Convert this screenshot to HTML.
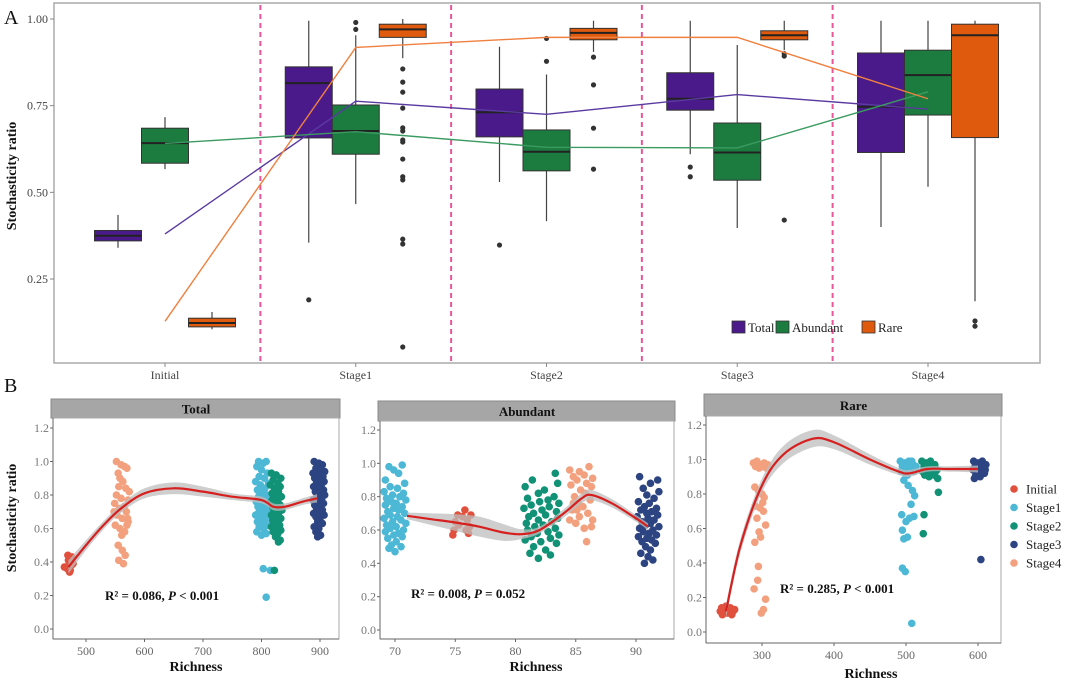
<!DOCTYPE html>
<html><head><meta charset="utf-8">
<style>
html,body{margin:0;padding:0;background:#fff;}
svg{display:block;font-family:"Liberation Serif",serif;}
</style></head>
<body>
<svg id="fig" width="1080" height="684" viewBox="0 0 1080 684" xmlns="http://www.w3.org/2000/svg"></svg>
<script>
// ---------- Panel A data ----------
const categoriesA = ["Initial","Stage1","Stage2","Stage3","Stage4"];
const groupsA = ["Total","Abundant","Rare"];
// [whiskerLow, q1, median, q3, whiskerHigh]
const totalBoxes = [[0.34,0.36,0.375,0.39,0.435],[0.355,0.657,0.815,0.862,0.995],[0.53,0.66,0.731,0.798,0.92],[0.61,0.737,0.77,0.845,0.995],[0.40,0.615,0.747,0.902,0.995]];
const abundantBoxes = [[0.567,0.584,0.642,0.685,0.717],[0.466,0.61,0.677,0.752,0.953],[0.417,0.562,0.617,0.68,0.84],[0.397,0.535,0.615,0.70,0.925],[0.516,0.723,0.838,0.91,0.995]];
const rareBoxes = [[0.105,0.112,0.123,0.137,0.155],[0.887,0.947,0.97,0.985,1.0],[0.905,0.94,0.96,0.973,0.995],[0.91,0.94,0.953,0.966,0.995],[0.186,0.658,0.953,0.985,0.995]];
const totalOutliers = [[],[0.19],[0.348],[0.573,0.545],[]];
const abundantOutliers = [[],[0.99,0.97],[0.944,0.878],[],[]];
const rareOutliers = [[],[0.856,0.818,0.789,0.743,0.686,0.677,0.651,0.645,0.596,0.545,0.536,0.365,0.351,0.054],[0.89,0.81,0.685,0.567],[0.9,0.893,0.42],[0.129,0.114]];
const totalMeans = [0.38,0.763,0.725,0.782,0.74];
const abundantMeans = [0.641,0.675,0.63,0.628,0.79];
const rareMeans = [0.128,0.918,0.947,0.947,0.77];
const yTicksA = [0.25,0.50,0.75,1.00];

// ---------- Panel B data ----------
const stageNames = ["Initial","Stage1","Stage2","Stage3","Stage4"];
const stageColors = ["#e0503c","#4cb8d6","#119276","#2d4482","#f2a07e"];
const totTicks = [500,600,700,800,900];
const abuTicks = [70,75,80,85,90];
const rarTicks = [300,400,500,600];
const yTicksB = [0.0,0.2,0.4,0.6,0.8,1.0,1.2];
const totInitial = "465,.37 468,.36 472,.34 475,.38 470,.41 476,.43 463,.37 473,.35 478,.39 469,.44";
const totStage4 = "552,1.0 560,.98 566,.97 555,.93 570,.96 558,.9 563,.88 556,.85 568,.84 552,.8 560,.78 572,.77 549,.75 565,.73 557,.72 569,.7 553,.68 562,.66 572,.64 550,.62 558,.6 566,.58 561,.56 570,.62 555,.5 562,.47 567,.44 556,.41 564,.39 571,.66 548,.7 574,.82";
const totStage1 = "795,1.0 803,.99 808,1.0 792,.97 800,.95 810,.93 796,.91 805,.9 790,.88 812,.87 798,.86 806,.84 793,.83 801,.82 809,.8 795,.79 803,.78 811,.77 791,.76 799,.75 807,.74 794,.73 802,.72 810,.71 796,.7 804,.69 790,.68 808,.67 798,.66 806,.65 793,.64 801,.63 811,.62 796,.61 804,.6 792,.58 808,.57 800,.56 803,.36 815,.35 808,.19";
const totStage2 = "817,.93 825,.92 833,.9 820,.89 828,.87 815,.86 832,.85 822,.84 829,.82 818,.81 826,.8 834,.79 820,.78 828,.77 816,.76 824,.75 832,.74 819,.73 827,.72 835,.71 821,.7 829,.69 817,.68 825,.67 833,.66 819,.65 827,.64 823,.63 831,.62 817,.61 826,.6 833,.59 820,.58 828,.57 824,.55 832,.53 829,.52 822,.35";
const totStage3 = "890,1.0 898,.99 904,.98 893,.96 901,.95 908,.94 888,.93 896,.92 905,.91 891,.9 899,.89 907,.88 894,.87 902,.86 889,.85 897,.84 906,.83 892,.82 900,.81 908,.8 895,.79 903,.78 888,.77 898,.76 906,.75 891,.74 901,.73 894,.72 904,.71 897,.7 889,.69 907,.68 893,.67 900,.66 896,.64 904,.63 890,.61 898,.6 893,.58 901,.56 896,.55";
const abuInitial = "74.8,.57 75,.65 75.2,.69 75.6,.68 75.8,.72 76,.66 76.2,.62 76.3,.69 75.9,.6 76.1,.58 74.9,.6 75.3,.63";
const abuStage1 = "69.5,.98 70.6,.99 69.9,.96 70.3,.94 69.2,.9 70.8,.88 69.6,.86 70.2,.85 69.1,.83 70.7,.82 69.8,.81 70.4,.8 69.3,.79 70.9,.78 69.7,.77 70.1,.76 69.2,.75 70.6,.74 69.9,.73 70.3,.72 69.4,.71 70.8,.7 69.6,.69 70.2,.68 69.1,.67 70.5,.66 69.8,.65 70.9,.64 69.3,.63 70.1,.62 69.6,.61 70.7,.6 69.2,.59 70.3,.58 69.9,.57 70.6,.56 69.4,.55 70.1,.53 69.7,.51 70.5,.5 70.0,.47 69.5,.49";
const abuStage2 = "83.3,.94 81.4,.9 83.5,.88 80.8,.86 82.4,.84 81.9,.82 83.2,.8 81.0,.79 82.7,.78 82.0,.77 83.6,.76 81.3,.75 82.8,.74 80.7,.73 82.2,.72 83.4,.71 81.5,.7 82.5,.69 81.1,.68 83.5,.67 81.9,.66 83.0,.65 80.9,.64 82.3,.63 81.6,.62 83.3,.61 81.0,.6 82.7,.59 81.8,.58 83.6,.57 81.3,.56 82.9,.55 80.8,.54 82.1,.53 83.4,.52 81.5,.5 82.5,.48 81.2,.46 82.9,.45 81.9,.43";
const abuStage4 = "84.5,.96 86.1,.98 85.3,.95 85.7,.93 84.8,.92 86.4,.91 85.1,.9 85.9,.88 84.6,.87 86.3,.86 85.4,.84 85.8,.82 84.9,.8 86.2,.78 85.2,.76 85.6,.74 84.7,.72 86.0,.7 85.3,.68 86.4,.66 85.0,.64 85.7,.61 84.5,.66 86.3,.62 85.1,.72 85.9,.53 84.8,.76";
const abuStage3 = "90.3,.92 91.8,.9 91.2,.88 90.6,.85 91.9,.83 90.9,.81 91.5,.79 90.2,.77 91.1,.76 90.7,.74 91.7,.73 90.4,.72 91.3,.71 90.9,.7 91.8,.69 90.1,.68 91,.67 91.5,.66 90.5,.65 91.2,.64 90.8,.63 91.9,.62 90.3,.61 91.4,.6 90.6,.59 91.1,.58 91.7,.57 90.2,.56 90.9,.55 91.3,.54 90.5,.53 91.6,.52 90.8,.5 91.2,.48 90.4,.46 91,.44 91.4,.42 90.7,.4";
const rarInitial = "242,.12 247,.13 252,.11 256,.14 260,.12 245,.1 250,.15 255,.12 262,.13 248,.11 258,.1 244,.14";
const rarStage4 = "288,.98 293,.99 298,.97 303,.98 308,.97 291,.96 296,.95 301,.96 306,.95 290,.84 295,.82 300,.8 303,.78 291,.73 297,.72 302,.7 293,.66 305,.62 290,.52 298,.55 295,.38 294,.3 289,.25 305,.19 302,.13 299,.11 296,.58 301,.75";
const rarStage1 = "492,.99 498,.98 504,.99 510,.97 495,.96 501,.95 507,.96 513,.94 493,.93 499,.92 505,.94 511,.93 496,.97 502,.91 508,.99 514,.96 497,.88 503,.85 509,.82 512,.79 507,.74 494,.68 511,.67 505,.66 500,.64 495,.59 502,.55 497,.54 495,.37 499,.35 508,.05";
const rarStage2 = "522,.99 528,.98 534,.99 540,.97 525,.96 531,.95 537,.96 543,.94 523,.93 529,.92 535,.94 541,.93 526,.91 532,.9 538,.97 544,.89 527,.95 533,.93 539,.91 545,.81 525,.68 524,.57";
const rarStage3 = "594,.99 600,.98 606,.99 611,.97 596,.96 602,.95 608,.96 593,.94 599,.93 605,.92 610,.94 597,.91 603,.9 609,.92 595,.89 601,.97 607,.95 604,.42";
const totCurveX = [470,500,530,560,600,650,700,750,800,820,840,870,895];
const totCurveY = [0.37,0.5,0.62,0.72,0.81,0.84,0.82,0.79,0.77,0.73,0.73,0.76,0.78];
const totCurveSE = [0.04,0.03,0.025,0.025,0.03,0.035,0.03,0.02,0.02,0.02,0.02,0.02,0.025];
const abuCurveX = [71,73,75,77,79,80.5,82,84,85.5,86.3,88,90,91];
const abuCurveY = [0.685,0.665,0.645,0.62,0.585,0.575,0.6,0.7,0.79,0.81,0.76,0.67,0.62];
const abuCurveSE = [0.02,0.035,0.05,0.06,0.05,0.03,0.02,0.025,0.03,0.03,0.025,0.02,0.02];
const rarCurveX = [250,270,300,330,370,400,450,490,505,530,560,600];
const rarCurveY = [0.12,0.5,0.85,1.03,1.12,1.1,1.0,0.93,0.92,0.945,0.945,0.945];
const rarCurveSE = [0.04,0.04,0.04,0.05,0.05,0.04,0.03,0.02,0.02,0.015,0.015,0.02];
const r2Labels = ["R² = 0.086, ","R² = 0.008, ","R² = 0.285, "];
const pLabels = ["< 0.001","= 0.052","< 0.001"];

const NS="http://www.w3.org/2000/svg";
const svg=document.getElementById('fig');
function mk(tag,attrs,parent){const e=document.createElementNS(NS,tag);for(const k in attrs)e.setAttribute(k,attrs[k]);(parent||svg).appendChild(e);return e;}
function txt(s,attrs,parent){const e=mk('text',attrs,parent);e.textContent=s;return e;}
// Catmull-Rom to cubic bezier path segments
function smoothPath(pts,move){
  let d=(move?'M':'L')+pts[0][0]+','+pts[0][1];
  for(let i=0;i<pts.length-1;i++){
    const p0=pts[Math.max(0,i-1)],p1=pts[i],p2=pts[i+1],p3=pts[Math.min(pts.length-1,i+2)];
    const c1=[p1[0]+(p2[0]-p0[0])/6,p1[1]+(p2[1]-p0[1])/6];
    const c2=[p2[0]-(p3[0]-p1[0])/6,p2[1]-(p3[1]-p1[1])/6];
    d+=' C'+c1[0]+','+c1[1]+' '+c2[0]+','+c2[1]+' '+p2[0]+','+p2[1];
  }
  return d;
}

// ================= PANEL A =================
const A={l:54,r:1040,t:3,b:363};
const yA=v=>365.7-346.7*v;
const xCat=i=>165+i*190.75;
const boxW=47;
const gA=mk('g',{});


let t=txt('A',{x:4,y:24,'font-size':20,fill:'#111'},gA);

let fr=mk('rect',{x:A.l,y:A.t,width:A.r-A.l,height:A.b-A.t,fill:'#fff',stroke:'#aaa','stroke-width':1.5},gA);

yTicksA.forEach(v=>{
  mk('line',{x1:A.l-4,x2:A.l,y1:yA(v),y2:yA(v),stroke:'#888'},gA);
  const e=txt(v.toFixed(2),{x:A.l-6,y:yA(v)+4,'font-size':12,fill:'#444','text-anchor':'end'},gA);
  
});
categoriesA.forEach((c,i)=>{
  mk('line',{x1:xCat(i),x2:xCat(i),y1:A.b,y2:A.b+4,stroke:'#888'},gA);
  const e=txt(c,{x:xCat(i),y:A.b+16,'font-size':12,fill:'#444','text-anchor':'middle'},gA);
  
  if(i>0){const xd=(xCat(i)+xCat(i-1))/2;
    const d=mk('line',{x1:xd,x2:xd,y1:A.t+2,y2:A.b-2,stroke:'#e8559a','stroke-width':2,'stroke-dasharray':'5,4'},gA);
    }
});
t=txt('Stochasticity ratio',{x:0,y:0,'font-size':14,'font-weight':'bold',fill:'#111','text-anchor':'middle',transform:'translate(16,176) rotate(-90)'},gA);


const boxSets=[totalBoxes,abundantBoxes,rareBoxes];
const outSets=[totalOutliers,abundantOutliers,rareOutliers];
const meanSets=[totalMeans,abundantMeans,rareMeans];
const boxCols=['#4b1a8a','#1c7c40','#e05a0d'];
const lineCols=['#5a3aa0','#3a9a60','#f08040'];
boxSets.forEach((set,g)=>{
  set.forEach((b,i)=>{
    const cx=xCat(i)+(g-1)*boxW;
    const w=mk('line',{x1:cx,x2:cx,y1:yA(b[0]),y2:yA(b[4]),stroke:'#444','stroke-width':1.2},gA);
    
    const r=mk('rect',{x:cx-boxW/2,y:yA(b[3]),width:boxW,height:yA(b[1])-yA(b[3]),fill:boxCols[g],stroke:'#333','stroke-width':1},gA);
    
    const m=mk('line',{x1:cx-boxW/2,x2:cx+boxW/2,y1:yA(b[2]),y2:yA(b[2]),stroke:'#222','stroke-width':2},gA);
    
    outSets[g][i].forEach(v=>{
      const o=mk('circle',{cx:cx,cy:yA(v),r:2.6,fill:'#333'},gA);
      
    });
  });
});
meanSets.forEach((ms,g)=>{
  const p=mk('polyline',{points:ms.map((v,i)=>xCat(i)+','+yA(v)).join(' '),fill:'none',stroke:lineCols[g],'stroke-width':1.4},gA);
  
});
const legA=mk('g',{},gA);

const legX=[732,776,862];
groupsA.forEach((gn,g)=>{
  const r=mk('rect',{x:legX[g],y:321,width:13,height:12,fill:boxCols[g],stroke:'#333','stroke-width':0.8},legA);
  
  const e=txt(gn,{x:legX[g]+16,y:332,'font-size':13,fill:'#222'},legA);
  
});

// ================= PANEL B =================
t=txt('B',{x:4,y:392,'font-size':20,fill:'#111'});

t=txt('Stochasticity ratio',{x:0,y:0,'font-size':14,'font-weight':'bold',fill:'#111','text-anchor':'middle',transform:'translate(16,518) rotate(-90)'});


function parsePts(s){return s.split(' ').map(p=>p.split(',').map(Number));}
const facets=[
 {name:'Total',l:53,r:339,t:418,b:639,st:399,y12:428,y0:629,xa:500,xpa:86,xb:900,xpb:320,ticks:totTicks,
  pts:[totInitial,totStage1,totStage2,totStage3,totStage4],cx:totCurveX,cy:totCurveY,se:totCurveSE,lab:[105,600],rx:196,ry:671},
 {name:'Abundant',l:380,r:674,t:421,b:639,st:401,y12:430,y0:630,xa:70,xpa:395,xb:90,xpb:636,ticks:abuTicks,
  pts:[abuInitial,abuStage1,abuStage2,abuStage3,abuStage4],cx:abuCurveX,cy:abuCurveY,se:abuCurveSE,lab:[411,598],rx:536,ry:671},
 {name:'Rare',l:706,r:1001,t:416,b:643,st:394,y12:425,y0:632,xa:300,xpa:762,xb:600,xpb:978,ticks:rarTicks,
  pts:[rarInitial,rarStage1,rarStage2,rarStage3,rarStage4],cx:rarCurveX,cy:rarCurveY,se:rarCurveSE,lab:[780,593],rx:871,ry:678}
];
facets.forEach((f,fi)=>{
  const g=mk('g',{});
  
  const X=v=>f.xpa+(v-f.xa)*(f.xpb-f.xpa)/(f.xb-f.xa);
  const Y=v=>f.y0+(f.y12-f.y0)*v/1.2;
  const strip=mk('rect',{x:f.l-2,y:f.st,width:f.r-f.l+3,height:f.t-f.st,fill:'#a6a6a6',stroke:'#8a8a8a'},g);
  
  const st=txt(f.name,{x:(f.l+f.r)/2,y:f.st+(f.t-f.st)/2+5,'font-size':13,'font-weight':'bold',fill:'#111','text-anchor':'middle'},g);
  
  const pr=mk('rect',{x:f.l,y:f.t,width:f.r-f.l,height:f.b-f.t,fill:'#fff',stroke:'#aaa'},g);
  
  mk('line',{x1:f.l,x2:f.l,y1:f.t,y2:f.b,stroke:'#666'},g);
  mk('line',{x1:f.l,x2:f.r,y1:f.b,y2:f.b,stroke:'#666'},g);
  yTicksB.forEach(v=>{
    mk('line',{x1:f.l-3,x2:f.l,y1:Y(v),y2:Y(v),stroke:'#666'},g);
    const e=txt(v.toFixed(1),{x:f.l-4,y:Y(v)+4,'font-size':12,fill:'#777','text-anchor':'end'},g);
    
  });
  f.ticks.forEach(v=>{
    mk('line',{x1:X(v),x2:X(v),y1:f.b,y2:f.b+3,stroke:'#666'},g);
    const e=txt(String(v),{x:X(v),y:f.b+16,'font-size':12,fill:'#666','text-anchor':'middle'},g);
    
  });
  const xl=txt('Richness',{x:f.rx,y:f.ry,'font-size':14,'font-weight':'bold',fill:'#111','text-anchor':'middle'},g);
  
  f.pts.forEach((s,si)=>{
    parsePts(s).forEach(p=>{
      const c=mk('circle',{cx:X(p[0]),cy:Y(p[1]),r:3.8,fill:stageColors[si]},g);
      
    });
  });
  const up=f.cx.map((x,i)=>[X(x),Y(f.cy[i]+f.se[i])]);
  const lo=f.cx.map((x,i)=>[X(x),Y(f.cy[i]-f.se[i])]).reverse();
  const band=mk('path',{d:smoothPath(up,true)+' '+smoothPath(lo,false)+' Z',fill:'#bdbdbd','fill-opacity':0.75},g);
  
  const cv=mk('path',{d:smoothPath(f.cx.map((x,i)=>[X(x),Y(f.cy[i])]),true),fill:'none',stroke:'#d62020','stroke-width':2.2,'stroke-linejoin':'round'},g);
  
  const an=mk('text',{x:f.lab[0],y:f.lab[1],'font-size':13,'font-weight':'bold',fill:'#111'},g);
  
  const s1=mk('tspan',{},an);s1.textContent=r2Labels[fi];
  const s2=mk('tspan',{'font-style':'italic'},an);s2.textContent='P';
  const s3=mk('tspan',{},an);s3.textContent=' '+pLabels[fi];
});
const legB=mk('g',{});

stageNames.forEach((n,i)=>{
  const yy=489+i*18.5;
  const c=mk('circle',{cx:1014,cy:yy,r:3.8,fill:stageColors[i]},legB);
  
  const e=txt(n,{x:1026,y:yy+4.5,'font-size':13,fill:'#222'},legB);
  
});
</script>
</body></html>
